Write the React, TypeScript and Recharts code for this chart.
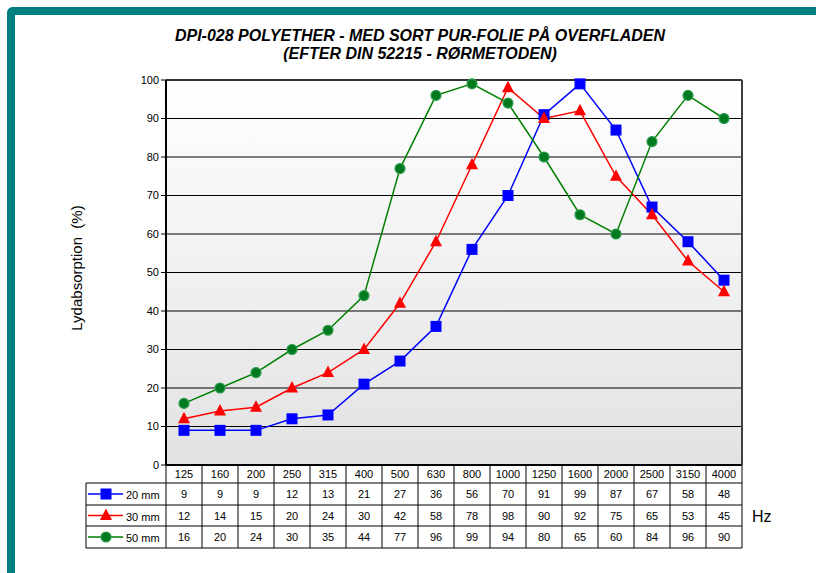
import { LineChart, Line, XAxis, YAxis, CartesianGrid, ReferenceLine } from 'recharts'

const frequencies = ['125', '160', '200', '250', '315', '400', '500', '630', '800', '1000', '1250', '1600', '2000', '2500', '3150', '4000']
const mm20 = [9, 9, 9, 12, 13, 21, 27, 36, 56, 70, 91, 99, 87, 67, 58, 48]
const mm30 = [12, 14, 15, 20, 24, 30, 42, 58, 78, 98, 90, 92, 75, 65, 53, 45]
const mm50 = [16, 20, 24, 30, 35, 44, 77, 96, 99, 94, 80, 65, 60, 84, 96, 90]
const yTicks = [0, 10, 20, 30, 40, 50, 60, 70, 80, 90, 100]

const seriesInfo = [
  { key: 'mm20', name: '20 mm', values: mm20, color: '#0000ff', marker: 'square' },
  { key: 'mm30', name: '30 mm', values: mm30, color: '#ff0000', marker: 'triangle' },
  { key: 'mm50', name: '50 mm', values: mm50, color: '#008000', marker: 'circle' },
]

const data = frequencies.map((hz, i) => ({ hz, mm20: mm20[i], mm30: mm30[i], mm50: mm50[i] }))

const FONT = 'Arial, "Liberation Sans", sans-serif'
const COL_W = 36
const LEGEND_W = 80
// table row edges, relative to the x axis line
const ROWS = [0, 18, 40, 61, 83]

function Marker({ kind, cx, cy }: { kind: string; cx: number; cy: number }) {
  if (kind === 'square') {
    return <rect x={cx - 5.5} y={cy - 5.5} width={11} height={11} fill='#0000ff' />
  }
  if (kind === 'triangle') {
    return <polygon points={`${cx},${cy - 7} ${cx + 6},${cy + 4.5} ${cx - 6},${cy + 4.5}`} fill='#ff0000' />
  }
  return <circle cx={cx} cy={cy} r={5} fill='#007a1e' stroke='#2e9b4e' strokeWidth={1.2} />
}

function makeDot(kind: string) {
  return (props: any) => {
    const { cx, cy, index } = props
    if (cx == null || cy == null) return <g key={index} />
    return <Marker key={index} kind={kind} cx={cx} cy={cy} />
  }
}

function TableColumn(props: any) {
  const { x, y, index, payload } = props
  const left = x - COL_W / 2
  const right = x + COL_W / 2
  const line = { stroke: '#000', strokeWidth: 1 }
  return (
    <g fontFamily={FONT} fontSize={11} fill='#000'>
      <line x1={left} y1={y} x2={left} y2={y + ROWS[4]} {...line} />
      {index === frequencies.length - 1 && <line x1={right} y1={y} x2={right} y2={y + ROWS[4]} {...line} />}
      {ROWS.slice(1).map((r) => (
        <line key={r} x1={left} y1={y + r} x2={right} y2={y + r} {...line} />
      ))}
      <text x={x} y={y + 13} textAnchor='middle'>{payload.value}</text>
      {seriesInfo.map((s, k) => (
        <text key={s.key} x={x} y={y + (ROWS[k + 1] + ROWS[k + 2]) / 2 + 4} textAnchor='middle'>
          {s.values[index]}
        </text>
      ))}
      {index === 0 && (
        <g>
          <line x1={left - LEGEND_W} y1={y + ROWS[1]} x2={left - LEGEND_W} y2={y + ROWS[4]} {...line} />
          {ROWS.slice(1).map((r) => (
            <line key={r} x1={left - LEGEND_W} y1={y + r} x2={left} y2={y + r} {...line} />
          ))}
          {seriesInfo.map((s, k) => {
            const cy = y + (ROWS[k + 1] + ROWS[k + 2]) / 2
            return (
              <g key={s.key}>
                <line x1={left - LEGEND_W + 2} y1={cy} x2={left - LEGEND_W + 37} y2={cy} stroke={s.color} strokeWidth={1.5} />
                <Marker kind={s.marker} cx={left - LEGEND_W + 20} cy={cy} />
                <text x={left - LEGEND_W + 40} y={cy + 5}>{s.name}</text>
              </g>
            )
          })}
        </g>
      )}
      {index === frequencies.length - 1 && (
        <text x={right + 10} y={y + (ROWS[2] + ROWS[3]) / 2 + 6} fontSize={16}>Hz</text>
      )}
    </g>
  )
}

export default function App() {
  return (
    <div style={{ position: 'absolute', left: 0, top: 0, width: 816, height: 573, overflow: 'hidden', background: '#fff', fontFamily: FONT }}>
      <div
        style={{
          position: 'absolute', left: 7, top: 7, width: 900, height: 700,
          borderTop: '8px solid #008080', borderLeft: '8px solid #008080', borderTopLeftRadius: 6,
        }}
      />
      <div
        style={{
          position: 'absolute', left: 120, top: 27, width: 600, textAlign: 'center',
          fontWeight: 'bold', fontStyle: 'italic', fontSize: 16, lineHeight: '18px', color: '#000',
        }}
      >
        DPI-028 POLYETHER - MED SORT PUR-FOLIE PÅ OVERFLADEN
        <br />
        (EFTER DIN 52215 - RØRMETODEN)
      </div>
      <div
        style={{
          position: 'absolute', left: 76, top: 268, transform: 'translate(-50%, -50%) rotate(-90deg)',
          fontSize: 15, whiteSpace: 'pre', color: '#000',
        }}
      >
        Lydabsorption  (%)
      </div>
      <div style={{ position: 'absolute', left: 0, top: 0 }}>
        <LineChart width={816} height={573} data={data} margin={{ top: 80, right: 72, bottom: 48, left: 126 }}>
          <defs>
            <linearGradient id='plotBg' x1='0' y1='0' x2='0' y2='1'>
              <stop offset='0%' stopColor='#ffffff' />
              <stop offset='100%' stopColor='#e2e2e2' />
            </linearGradient>
          </defs>
          <CartesianGrid vertical={false} stroke='#000' strokeWidth={1} fill='url(#plotBg)' fillOpacity={1} />
          <XAxis
            dataKey='hz'
            interval={0}
            height={60}
            padding={{ left: COL_W / 2, right: COL_W / 2 }}
            tickSize={0}
            tickMargin={0}
            tickLine={false}
            axisLine={{ stroke: '#000', strokeWidth: 2 }}
            tick={<TableColumn />}
          />
          <YAxis
            domain={[0, 100]}
            ticks={yTicks}
            width={40}
            tickSize={5}
            tickLine={{ stroke: '#000' }}
            axisLine={{ stroke: '#000', strokeWidth: 2 }}
            tick={{ fill: '#000', fontSize: 11, fontFamily: FONT }}
          />
          <YAxis
            yAxisId='right'
            orientation='right'
            domain={[0, 100]}
            width={2}
            tick={false}
            tickLine={false}
            axisLine={{ stroke: '#404040', strokeWidth: 2 }}
          />
          <ReferenceLine y={100} stroke='#333' strokeWidth={2} />
          {seriesInfo.map((s) => (
            <Line
              key={s.key}
              dataKey={s.key}
              name={s.name}
              stroke={s.color}
              strokeWidth={1.5}
              dot={makeDot(s.marker)}
              activeDot={false}
              isAnimationActive={false}
            />
          ))}
        </LineChart>
      </div>
    </div>
  )
}
